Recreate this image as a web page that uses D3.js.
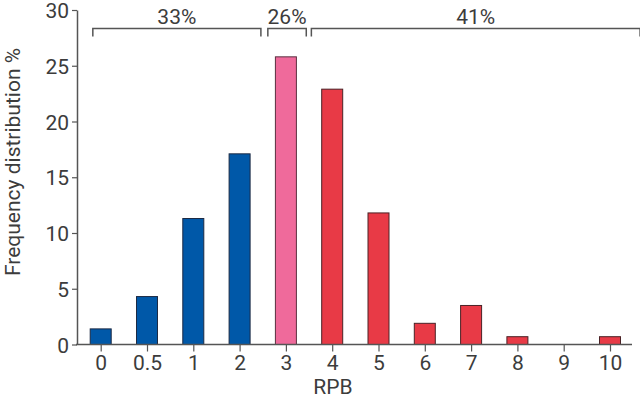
<!DOCTYPE html>
<html>
<head>
<meta charset="utf-8">
<script src="https://cdn.jsdelivr.net/npm/d3@7"></script>
<style>
  body { margin: 0; background: #fff; }
  svg text { font-family: Roboto, "Noto Sans", sans-serif; fill: #3c3c3c; }
</style>
</head>
<body>
<div id="chart"></div>
<script>
// RPB categories and frequency distribution (%)
var categories = ["0", "0.5", "1", "2", "3", "4", "5", "6", "7", "8", "9", "10"]
var frequency = [1.4, 4.3, 11.3, 17.1, 25.8, 22.9, 11.8, 1.9, 3.5, 0.7, 0, 0.7]
var groupOf = ["low", "low", "low", "low", "mid", "high", "high", "high", "high", "high", "high", "high"]
var yTicks = [0, 5, 10, 15, 20, 25, 30]

// bracket groups over the bars (in category index units)
var bracketLabels = ["33%", "26%", "41%"]
var bracketFrom = [-0.17, 3.61, 4.55]
var bracketTo = [3.46, 4.44, 11.65]

var colors = { low: "#0058a8", mid: "#ef6a9b", high: "#e83a46" }
var strokes = { low: "#1c2a44", mid: "#5a3040", high: "#4a2226" }

var width = 640, height = 405
var marginLeft = 77, bottomY = 344.5, topY = 10
var fontSize = 21

const svg = d3.select("#chart")
    .append("svg")
    .attr("width", width)
    .attr("height", height)

var x = d3.scalePoint()
    .domain(categories)
    .range([100.7, 610])

// index scale for brackets, same spacing as the points
var xi = d3.scaleLinear()
    .domain([0, categories.length - 1])
    .range([100.7, 610])

var y = d3.scaleLinear()
    .domain([0, 30])
    .range([bottomY, topY])

var barWidth = 21

// bars
svg.append("g")
    .selectAll("rect")
    .data(frequency)
    .join("rect")
    .attr("x", (d, i) => x(categories[i]) - barWidth / 2)
    .attr("width", barWidth)
    .attr("y", d => y(d))
    .attr("height", d => bottomY - y(d))
    .attr("fill", (d, i) => colors[groupOf[i]])
    .attr("stroke", (d, i) => strokes[groupOf[i]])
    .attr("stroke-width", d => d > 0 ? 1 : 0)

// y axis
var yAxis = d3.axisLeft(y).tickValues(yTicks).tickSize(5).tickSizeOuter(0).tickPadding(3)
var gy = svg.append("g")
    .attr("transform", "translate(" + marginLeft + ",0)")
    .call(yAxis)
gy.select(".domain").attr("stroke", "#555").attr("stroke-width", 1.5)
gy.selectAll(".tick line").attr("stroke", "#555").attr("stroke-width", 1.2)
gy.selectAll(".tick text").attr("font-size", fontSize).attr("dy", "0.36em")

// x axis
var xAxis = d3.axisBottom(x).tickSize(7).tickPadding(4)
var gx = svg.append("g")
    .attr("transform", "translate(0," + bottomY + ")")
    .call(xAxis)
gx.select(".domain").remove()
gx.append("line")
    .attr("x1", marginLeft - 1)
    .attr("x2", 632)
    .attr("stroke", "#555")
    .attr("stroke-width", 1.5)
gx.selectAll(".tick line").attr("stroke", "#555").attr("stroke-width", 1.2)
gx.selectAll(".tick text").attr("font-size", fontSize)

// axis titles
svg.append("text")
    .attr("x", 333)
    .attr("y", 394)
    .attr("text-anchor", "middle")
    .attr("font-size", fontSize)
    .text("RPB")

svg.append("text")
    .attr("transform", "translate(20,162) rotate(-90)")
    .attr("text-anchor", "middle")
    .attr("font-size", fontSize)
    .text("Frequency distribution %")

// brackets
var bracketY = 28.5, bracketDrop = 8
var gb = svg.append("g")
bracketLabels.forEach(function (lab, i) {
    var x0 = xi(bracketFrom[i]), x1 = xi(bracketTo[i])
    gb.append("path")
        .attr("d", "M" + x0 + "," + (bracketY + bracketDrop) + "V" + bracketY + "H" + x1 + "V" + (bracketY + bracketDrop))
        .attr("fill", "none")
        .attr("stroke", "#555")
        .attr("stroke-width", 1.5)
    gb.append("text")
        .attr("x", (x0 + x1) / 2)
        .attr("y", 24)
        .attr("text-anchor", "middle")
        .attr("font-size", fontSize)
        .text(lab)
})
</script>
</body>
</html>
